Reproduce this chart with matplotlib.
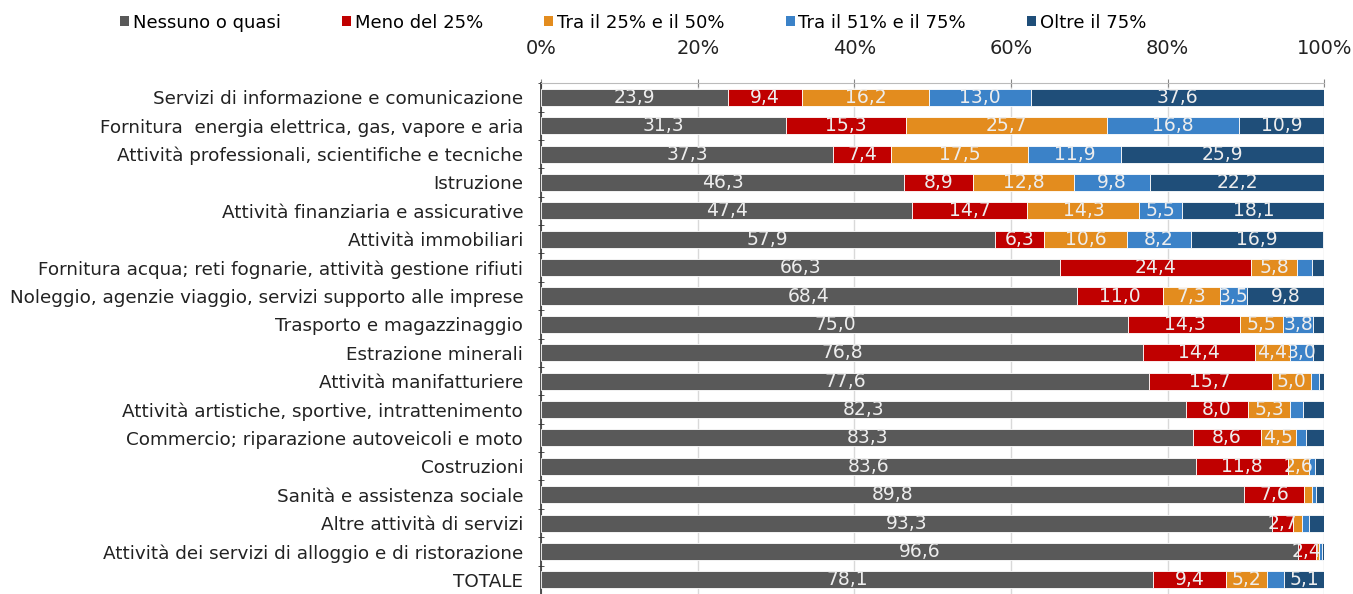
import numpy as np
import matplotlib.pyplot as plt
from matplotlib.patches import Patch

plt.rcParams['font.family'] = ['DejaVu Sans']

settori = ['Servizi di informazione e comunicazione',
           'Fornitura  energia elettrica, gas, vapore e aria',
           'Attività professionali, scientifiche e tecniche',
           'Istruzione',
           'Attività finanziaria e assicurative',
           'Attività immobiliari',
           'Fornitura acqua; reti fognarie, attività gestione rifiuti',
           'Noleggio, agenzie viaggio, servizi supporto alle imprese',
           'Trasporto e magazzinaggio',
           'Estrazione minerali',
           'Attività manifatturiere',
           'Attività artistiche, sportive, intrattenimento',
           'Commercio; riparazione autoveicoli e moto',
           'Costruzioni',
           'Sanità e assistenza sociale',
           'Altre attività di servizi',
           'Attività dei servizi di alloggio e di ristorazione',
           'TOTALE']

serie = ['Nessuno o quasi', 'Meno del 25%', 'Tra il 25% e il 50%',
         'Tra il 51% e il 75%', 'Oltre il 75%']

nessuno = [23.9, 31.3, 37.3, 46.3, 47.4, 57.9, 66.3, 68.4, 75.0, 76.8, 77.6,
           82.3, 83.3, 83.6, 89.8, 93.3, 96.6, 78.1]
meno25 = [9.4, 15.3, 7.4, 8.9, 14.7, 6.3, 24.4, 11.0, 14.3, 14.4, 15.7,
          8.0, 8.6, 11.8, 7.6, 2.7, 2.4, 9.4]
tra25_50 = [16.2, 25.7, 17.5, 12.8, 14.3, 10.6, 5.8, 7.3, 5.5, 4.4, 5.0,
            5.3, 4.5, 2.6, 1.1, 1.2, 0.3, 5.2]
tra51_75 = [13.0, 16.8, 11.9, 9.8, 5.5, 8.2, 2.0, 3.5, 3.8, 3.0, 1.0,
            1.7, 1.3, 0.8, 0.4, 0.8, 0.4, 2.2]
oltre75 = [37.6, 10.9, 25.9, 22.2, 18.1, 16.9, 1.5, 9.8, 1.4, 1.4, 0.7,
           2.7, 2.3, 1.2, 1.1, 2.0, 0.3, 5.1]

# segmenti senza etichetta nel grafico originale (riga, serie)
senza_etichetta = {(6, 3), (11, 4), (15, 3), (15, 4), (17, 3)}

colori = ['#595959', '#C00000', '#E38C1E', '#3B82C8', '#1F4E79']

dati = np.array([nessuno, meno25, tra25_50, tra51_75, oltre75])
y = np.arange(len(settori))

fig = plt.figure(figsize=(13.53, 5.94), dpi=100)
ax = fig.add_axes([0.4, 0.0, 0.5787, 0.86])

sinistra = np.zeros(len(settori))
for j in range(len(serie)):
    ax.barh(y, dati[j], left=sinistra, height=0.6, color=colori[j],
            edgecolor='white', linewidth=0.6, zorder=3)
    for i in range(len(settori)):
        v = dati[j, i]
        if v >= 2.4 and (i, j) not in senza_etichetta:
            ax.text(sinistra[i] + v / 2, y[i], '{:.1f}'.format(v).replace('.', ','),
                    ha='center', va='center', color='#EDEDED', fontsize=13.5,
                    zorder=4)
    sinistra += dati[j]

ax.set_xlim(0, 100)
ax.set_ylim(len(settori) - 0.5, -0.5)
ax.set_yticks(y)
ax.set_yticklabels(settori, fontsize=13.2, color='#222222')
ax.set_yticks(np.arange(-0.5, len(settori), 1), minor=True)
ax.tick_params(axis='y', which='major', length=0, pad=13)
ax.tick_params(axis='y', which='minor', length=4, direction='inout', color='#333333')

ax.xaxis.tick_top()
ax.set_xticks([0, 20, 40, 60, 80, 100])
ax.set_xticklabels(['0%', '20%', '40%', '60%', '80%', '100%'], fontsize=14,
                   color='#222222')
ax.tick_params(axis='x', length=6, direction='inout', color='#888888', pad=15)
ax.grid(axis='x', color='#D9D9D9', linewidth=1, zorder=0)

ax.spines['right'].set_visible(False)
ax.spines['bottom'].set_visible(False)
ax.spines['top'].set_color('#BBBBBB')
ax.spines['left'].set_color('#333333')
ax.spines['left'].set_linewidth(1.2)

maniglie = [Patch(facecolor=c, edgecolor='none') for c in colori]
fig.legend(maniglie, serie, loc='center', bbox_to_anchor=(0.468, 0.962),
           ncol=5, frameon=False, fontsize=13, handlelength=0.5,
           handleheight=0.5, handletextpad=0.2, columnspacing=3.4)

fig.savefig('out.png', dpi=100)
